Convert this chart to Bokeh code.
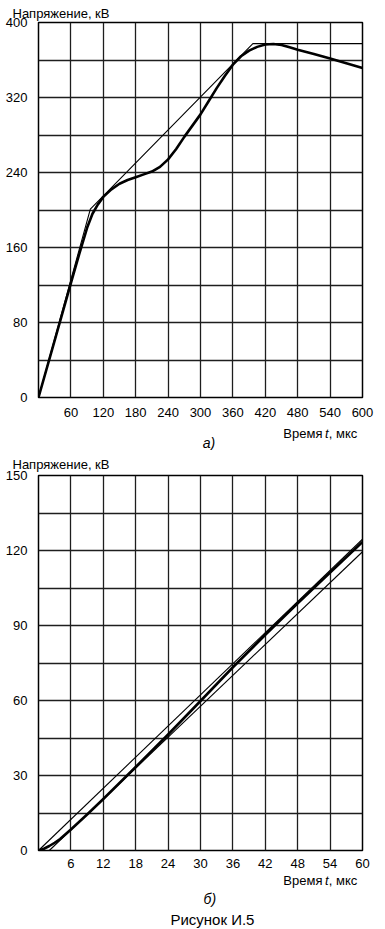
from bokeh.plotting import figure
from bokeh.models import FixedTicker, Range1d
from bokeh.core.properties import value
from bokeh.layouts import column
from bokeh.embed import file_html
from bokeh.resources import INLINE

# ---------------- data: chart a) ----------------
ta_curve = [0, 30, 60, 75, 90, 100, 110, 120, 135, 150, 165, 180, 195, 210, 225, 240, 255,
            270, 285, 300, 315, 330, 345, 360, 375, 390, 405, 420, 435, 450, 465, 480, 510,
            540, 570, 600]
ua_curve = [0, 61, 122, 152, 181, 196, 206, 214, 222, 228, 232, 235, 238, 241, 246, 254, 265,
            278, 290, 302, 316, 330, 343, 355, 364, 370, 374, 376.5, 377, 376, 373.5, 371, 366.5,
            361.5, 356.5, 351.5]
ta_approx = [0, 96, 397, 600]
ua_approx = [0, 201, 377.5, 377.5]
xa_ticks = [60, 120, 180, 240, 300, 360, 420, 480, 540, 600]
ya_ticks = [0, 80, 160, 240, 320, 400]
xa_grid = [60, 120, 180, 240, 300, 360, 420, 480, 540]
ya_grid = [40, 80, 120, 160, 200, 240, 280, 320, 360]

# ---------------- data: chart б) ----------------
tb_curve = [0, 1, 2, 3, 4, 6, 9, 12, 18, 24, 30, 36, 42, 48, 54, 60]
ub_curve = [0, 0.7, 1.8, 3.1, 4.6, 8.4, 14.4, 20.6, 33.4, 46.4, 59.8, 73.3, 86.3, 98.9, 111.2, 123.4]
tb_upper = [0, 60]
ub_upper = [0, 124.5]
tb_lower = [2, 60]
ub_lower = [0, 119.5]
xb_ticks = [6, 12, 18, 24, 30, 36, 42, 48, 54, 60]
yb_ticks = [0, 30, 60, 90, 120, 150]
xb_grid = [6, 12, 18, 24, 30, 36, 42, 48, 54]
yb_grid = [15, 30, 45, 60, 75, 90, 105, 120, 135]

y_title = "Напряжение, кВ"
x_title = ["Время", "t", ", мкс"]
panel_a = "а)"
panel_b = "б)"
caption = "Рисунок И.5"

FONT = "Liberation Sans"
W = 380


def make_fig(height, top, bottom, xr, yr, xticks, yticks, xgrid, ygrid, standoff,
             title_standoff):
    p = figure(width=W, height=height, x_range=Range1d(*xr), y_range=Range1d(*yr),
               output_backend="svg", toolbar_location=None,
               min_border_left=38, min_border_right=W - 362,
               min_border_top=top, min_border_bottom=bottom)
    p.background_fill_color = "white"
    p.border_fill_color = "white"
    p.outline_line_color = "black"
    p.outline_line_width = 1.5
    p.xaxis.ticker = FixedTicker(ticks=xticks)
    p.yaxis.ticker = FixedTicker(ticks=yticks)
    p.xgrid.ticker = FixedTicker(ticks=xgrid)
    p.ygrid.ticker = FixedTicker(ticks=ygrid)
    for g in (p.xgrid, p.ygrid):
        g.grid_line_color = "#1e1e1e"
        g.grid_line_width = 1.3
    for ax in (p.xaxis, p.yaxis):
        ax.axis_line_color = None
        ax.major_tick_line_color = None
        ax.minor_tick_line_color = None
        ax.major_label_text_font = FONT
        ax.major_label_text_font_size = "13px"
        ax.major_label_text_color = "black"
    p.xaxis.major_label_standoff = standoff
    p.yaxis.major_label_standoff = 5
    p.title.text = y_title
    p.title.align = "left"
    p.title.offset = -26
    p.title.standoff = title_standoff
    p.title.text_font = FONT
    p.title.text_font_size = "13px"
    p.title.text_font_style = "normal"
    p.title.text_color = "black"
    return p


def text_fig(h):
    t = figure(width=W, height=h, x_range=Range1d(0, W), y_range=Range1d(h, 0),
               output_backend="svg", toolbar_location=None, min_border=0,
               x_axis_location=None, y_axis_location=None)
    t.grid.visible = False
    t.outline_line_color = None
    t.background_fill_color = "white"
    t.border_fill_color = "white"
    return t


def txt(t, x, y, s, size="13px", style="normal", align="left"):
    t.text(x=[x], y=[y], text=[s], text_font=value(FONT), text_font_size=value(size),
           text_font_style=style, text_align=align, text_baseline="alphabetic",
           text_color="black")


# ---------- chart a) : page y 0..419, frame y 22..400 ----------
p1 = make_fig(419, 22, 19, (0, 600), (0, 400), xa_ticks, ya_ticks, xa_grid, ya_grid, 4, 4)
p1.line(ta_approx, ua_approx, line_color="black", line_width=1.1)
p1.line(ta_curve, ua_curve, line_color="black", line_width=2.6, line_join="round")

# ---------- texts under chart a) : page y 419..450 ----------
ta_txt = text_fig(31)
txt(ta_txt, 333, 13.5, x_title[0], align="right")
txt(ta_txt, 336, 13.5, x_title[1], style="italic")
txt(ta_txt, 340.5, 13.5, x_title[2])
txt(ta_txt, 200, 23.5, panel_a, size="14px", style="italic", align="center")

# ---------- chart б) : page y 450..870, frame y 473..853 ----------
p2 = make_fig(420, 23, 17, (0, 60), (0, 150), xb_ticks, yb_ticks, xb_grid, yb_grid, 2, 8)
p2.line(tb_upper, ub_upper, line_color="black", line_width=1.1)
p2.line(tb_lower, ub_lower, line_color="black", line_width=1.1)
p2.line(tb_curve, ub_curve, line_color="black", line_width=2.6, line_join="round")

# ---------- texts under chart б) : page y 870..928 ----------
tb_txt = text_fig(58)
txt(tb_txt, 333, 9.5, x_title[0], align="right")
txt(tb_txt, 336, 9.5, x_title[1], style="italic")
txt(tb_txt, 340.5, 9.5, x_title[2])
txt(tb_txt, 201, 28.5, panel_b, size="14px", style="italic", align="center")
txt(tb_txt, 204, 49, caption, size="15px", align="center")

layout = column(p1, ta_txt, p2, tb_txt)
open("out.html", "w").write(file_html(layout, INLINE))
